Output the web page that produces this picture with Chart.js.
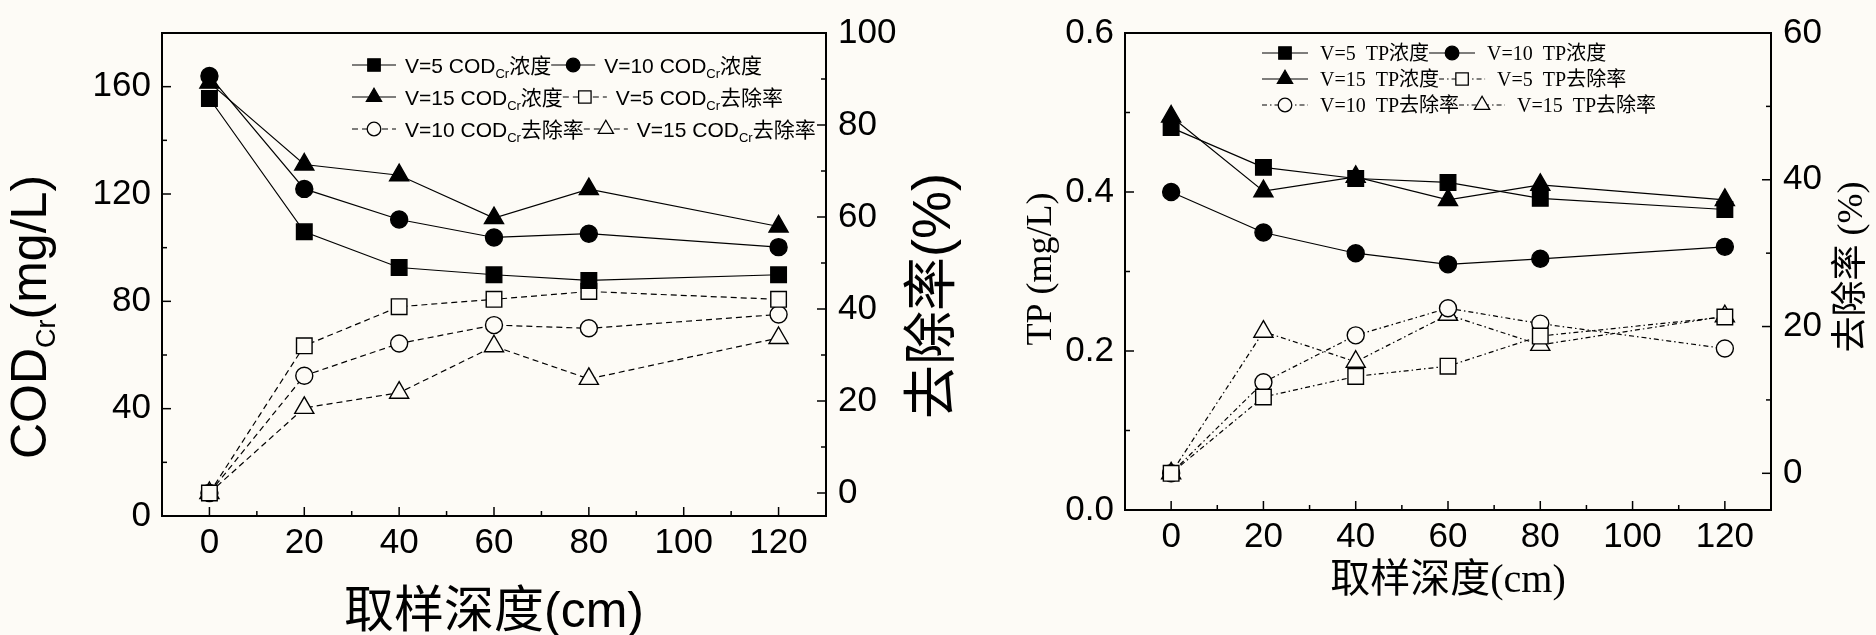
<!DOCTYPE html>
<html>
<head>
<meta charset="utf-8">
<script src="https://cdn.jsdelivr.net/npm/chart.js@4.4.1/dist/chart.umd.min.js"></script>
<style>
  body { margin: 0; background: #fdfbf6; width: 1876px; height: 635px; overflow: hidden; }
  canvas { position: absolute; top: 0; }
  #codChart { left: 0; }
  #tpChart { left: 968px; }
</style>
</head>
<body>
<canvas id="codChart" width="968" height="635"></canvas>
<canvas id="tpChart" width="908" height="635"></canvas>
<script>
// sampling depth (cm)
const depths = [0, 20, 40, 60, 80, 120];
const xTicks = [0, 20, 40, 60, 80, 100, 120];
const xMinor = [10, 30, 50, 70, 90, 110];

// COD_Cr concentration (mg/L)
const codV5 = [155.6, 105.9, 92.6, 89.9, 87.8, 89.9];
const codV10 = [164.0, 121.9, 110.5, 103.8, 105.2, 100.2];
const codV15 = [161.5, 131.0, 127.0, 111.0, 121.8, 107.9];
// COD_Cr removal rate (%)
const codRemV5 = [0, 32.0, 40.5, 42.1, 43.8, 42.1];
const codRemV10 = [0, 25.5, 32.5, 36.5, 35.8, 38.8];
const codRemV15 = [0, 18.5, 21.8, 31.9, 24.8, 33.7];
const codTicks = [0, 40, 80, 120, 160];
const codMinor = [20, 60, 100, 140];
const codRateTicks = [0, 20, 40, 60, 80, 100];
const codRateMinor = [10, 30, 50, 70, 90];

// TP concentration (mg/L)
const tpV5 = [0.481, 0.431, 0.417, 0.412, 0.392, 0.378];
const tpV10 = [0.400, 0.349, 0.323, 0.309, 0.316, 0.331];
const tpV15 = [0.495, 0.401, 0.419, 0.390, 0.409, 0.390];
// TP removal rate (%)
const tpRemV5 = [0, 10.4, 13.2, 14.6, 18.7, 21.3];
const tpRemV10 = [0, 12.4, 18.8, 22.5, 20.4, 17.0];
const tpRemV15 = [0, 19.3, 15.2, 21.6, 17.5, 21.4];
const tpTicks = [0, 0.2, 0.4, 0.6];
const tpMinor = [0.1, 0.3, 0.5];
const tpRateTicks = [0, 20, 40, 60];
const tpRateMinor = [10, 30, 50];

// legend names: [text, subscript, text]
const codNames = [
  ['V=5 COD', 'Cr', '浓度'], ['V=10 COD', 'Cr', '浓度'], ['V=15 COD', 'Cr', '浓度'],
  ['V=5 COD', 'Cr', '去除率'], ['V=10 COD', 'Cr', '去除率'], ['V=15 COD', 'Cr', '去除率']
];
const tpNames = [
  ['V=5  TP浓度'], ['V=10  TP浓度'], ['V=15  TP浓度'],
  ['V=5  TP去除率'], ['V=10  TP去除率'], ['V=15  TP去除率']
];

const BG = '#fdfbf6';
const SANS = '"Liberation Sans", Arial, "Noto Sans CJK SC", sans-serif';
const SERIF = '"Liberation Serif", "Noto Sans CJK SC", serif';

function series(names, values, axis, pointStyle, filled, dash) {
  const radius = pointStyle === 'circle' ? 8.5 : 11;
  return {
    label: names.join(''),
    names: names,
    data: depths.map((d, i) => ({ x: d, y: values[i] })),
    yAxisID: axis,
    borderColor: '#000',
    borderWidth: 1.2,
    borderDash: dash || [],
    tension: 0,
    pointStyle: pointStyle,
    pointRadius: radius,
    pointBackgroundColor: filled ? '#000' : BG,
    pointBorderColor: '#000',
    pointBorderWidth: 1.4
  };
}

function drawParts(ctx, parts, x, y) {
  parts.forEach(p => {
    ctx.font = p.font;
    ctx.fillText(p.text, x, y + (p.dy || 0));
    x += ctx.measureText(p.text).width;
  });
  return x;
}
function partsWidth(ctx, parts) {
  return parts.reduce((w, p) => { ctx.font = p.font; return w + ctx.measureText(p.text).width; }, 0);
}

// frame, inward ticks, axis titles and legend
function decor(cfg) {
  return {
    id: 'decor',
    afterDraw(chart) {
      const ctx = chart.ctx, a = chart.chartArea;
      ctx.save();
      ctx.strokeStyle = '#000';
      ctx.fillStyle = '#000';
      ctx.lineWidth = 2;
      ctx.strokeRect(a.left, a.top, a.right - a.left, a.bottom - a.top);

      ctx.lineWidth = 1.5;
      const tick = (id, values, len) => {
        const s = chart.scales[id];
        values.forEach(v => {
          const p = s.getPixelForValue(v);
          ctx.beginPath();
          if (id === 'x') { ctx.moveTo(p, a.bottom); ctx.lineTo(p, a.bottom - len); }
          else if (id === 'y') { ctx.moveTo(a.left, p); ctx.lineTo(a.left + len, p); }
          else { ctx.moveTo(a.right, p); ctx.lineTo(a.right - len, p); }
          ctx.stroke();
        });
      };
      tick('x', xTicks, 9); tick('x', xMinor, 5);
      tick('y', cfg.yTicks, 9); tick('y', cfg.yMinor, 5);
      tick('y2', cfg.y2Ticks, 9); tick('y2', cfg.y2Minor, 5);

      // titles
      ctx.textBaseline = 'alphabetic';
      cfg.titles.forEach(t => {
        const w = partsWidth(ctx, t.parts);
        ctx.save();
        ctx.translate(t.x, t.y);
        if (t.rotate) ctx.rotate(-Math.PI / 2);
        drawParts(ctx, t.parts, -w / 2, 0);
        ctx.restore();
      });

      // legend
      const L = cfg.legend;
      L.rows.forEach((row, r) => {
        let x = L.x;
        const y = L.y[r];
        row.forEach(i => {
          const ds = chart.data.datasets[i];
          ctx.save();
          ctx.lineWidth = 1.2;
          ctx.setLineDash(ds.borderDash);
          ctx.beginPath();
          ctx.moveTo(x, y); ctx.lineTo(x + L.sampleW, y);
          ctx.stroke();
          ctx.setLineDash([]);
          ctx.fillStyle = ds.pointBackgroundColor;
          ctx.lineWidth = 1.3;
          Chart.helpers.drawPoint(ctx, {
            pointStyle: ds.pointStyle, radius: ds.pointRadius * 0.8, rotation: 0, borderWidth: 1.3
          }, x + L.sampleW / 2, y);
          ctx.restore();
          const n = ds.names;
          const parts = [{ text: n[0], font: L.font }];
          if (n[1]) parts.push({ text: n[1], font: L.subFont, dy: L.subDy });
          if (n[2]) parts.push({ text: n[2], font: L.font });
          x = drawParts(ctx, parts, x + L.sampleW + L.gap, y + L.textDy);
        });
      });
      ctx.restore();
    }
  };
}

function fixedTicks(values) {
  return s => { s.ticks = values.map(v => ({ value: v })); };
}

function makeChart(id, datasets, sc, cfg) {
  const tickFont = { family: SANS, size: 35 };
  new Chart(document.getElementById(id), {
    type: 'line',
    data: { datasets: datasets },
    options: {
      responsive: false,
      animation: false,
      devicePixelRatio: 1,
      layout: { padding: { top: sc.top, left: 0, right: 0, bottom: 0 } },
      plugins: { legend: { display: false }, tooltip: { enabled: false } },
      scales: {
        x: {
          type: 'linear', min: -10, max: 130,
          afterBuildTicks: fixedTicks(xTicks),
          afterFit: s => { s.height = sc.xHeight; },
          grid: { display: false, drawTicks: false }, border: { display: false },
          ticks: { font: tickFont, color: '#000', padding: 6, maxRotation: 0 }
        },
        y: {
          type: 'linear', position: 'left', min: sc.yMin, max: sc.yMax,
          afterBuildTicks: fixedTicks(cfg.yTicks),
          afterFit: s => { s.width = sc.yWidth; },
          grid: { display: false, drawTicks: false }, border: { display: false },
          ticks: { font: tickFont, color: '#000', padding: 11, callback: sc.yFmt }
        },
        y2: {
          type: 'linear', position: 'right', min: sc.y2Min, max: sc.y2Max,
          afterBuildTicks: fixedTicks(cfg.y2Ticks),
          afterFit: s => { s.width = sc.y2Width; },
          grid: { display: false, drawTicks: false }, border: { display: false },
          ticks: { font: tickFont, color: '#000', padding: 12 }
        }
      }
    },
    plugins: [decor(cfg)]
  });
}

// ---- COD chart ----
makeChart('codChart', [
  series(codNames[0], codV5, 'y', 'rect', true),
  series(codNames[1], codV10, 'y', 'circle', true),
  series(codNames[2], codV15, 'y', 'triangle', true),
  series(codNames[3], codRemV5, 'y2', 'rect', false, [6, 4]),
  series(codNames[4], codRemV10, 'y2', 'circle', false, [6, 4]),
  series(codNames[5], codRemV15, 'y2', 'triangle', false, [6, 4])
], {
  top: 24, xHeight: 119, yWidth: 162, y2Width: 142,
  yMin: 0, yMax: 180, y2Min: -5, y2Max: 100, yFmt: v => v
}, {
  yTicks: codTicks, yMinor: codMinor, y2Ticks: codRateTicks, y2Minor: codRateMinor,
  titles: [
    { x: 494, y: 627, parts: [{ text: '取样深度(cm)', font: '50px ' + SANS }] },
    { x: 46, y: 317, rotate: true, parts: [
      { text: 'COD', font: '50px ' + SANS },
      { text: 'Cr', font: '27px ' + SANS, dy: 9 },
      { text: '(mg/L)', font: '50px ' + SANS }] },
    { x: 950, y: 296, rotate: true, parts: [{ text: '去除率(%)', font: '54px ' + SANS }] }
  ],
  legend: {
    x: 352, y: [65, 97, 129], rows: [[0, 1], [2, 3], [4, 5]],
    sampleW: 44, gap: 9, textDy: 8,
    font: '21px ' + SANS, subFont: '13px ' + SANS, subDy: 5
  }
});

// ---- TP chart ----
makeChart('tpChart', [
  series(tpNames[0], tpV5, 'y', 'rect', true),
  series(tpNames[1], tpV10, 'y', 'circle', true),
  series(tpNames[2], tpV15, 'y', 'triangle', true),
  series(tpNames[3], tpRemV5, 'y2', 'rect', false, [5, 3, 1.5, 3]),
  series(tpNames[4], tpRemV10, 'y2', 'circle', false, [5, 3, 1.5, 3]),
  series(tpNames[5], tpRemV15, 'y2', 'triangle', false, [5, 3, 1.5, 3])
], {
  top: 25, xHeight: 125, yWidth: 157, y2Width: 105,
  yMin: 0, yMax: 0.6, y2Min: -5, y2Max: 60, yFmt: v => v.toFixed(1)
}, {
  yTicks: tpTicks, yMinor: tpMinor, y2Ticks: tpRateTicks, y2Minor: tpRateMinor,
  titles: [
    { x: 480, y: 592, parts: [{ text: '取样深度(cm)', font: '40px ' + SERIF }] },
    { x: 83, y: 269, rotate: true, parts: [{ text: 'TP (mg/L)', font: '36px ' + SERIF }] },
    { x: 894, y: 267, rotate: true, parts: [{ text: '去除率 (%)', font: '36px ' + SERIF }] }
  ],
  legend: {
    x: 294, y: [53, 79, 105], rows: [[0, 1], [2, 3], [4, 5]],
    sampleW: 46, gap: 12, textDy: 7,
    font: '20px ' + SERIF, subFont: '13px ' + SERIF, subDy: 5
  }
});
</script>
</body>
</html>
